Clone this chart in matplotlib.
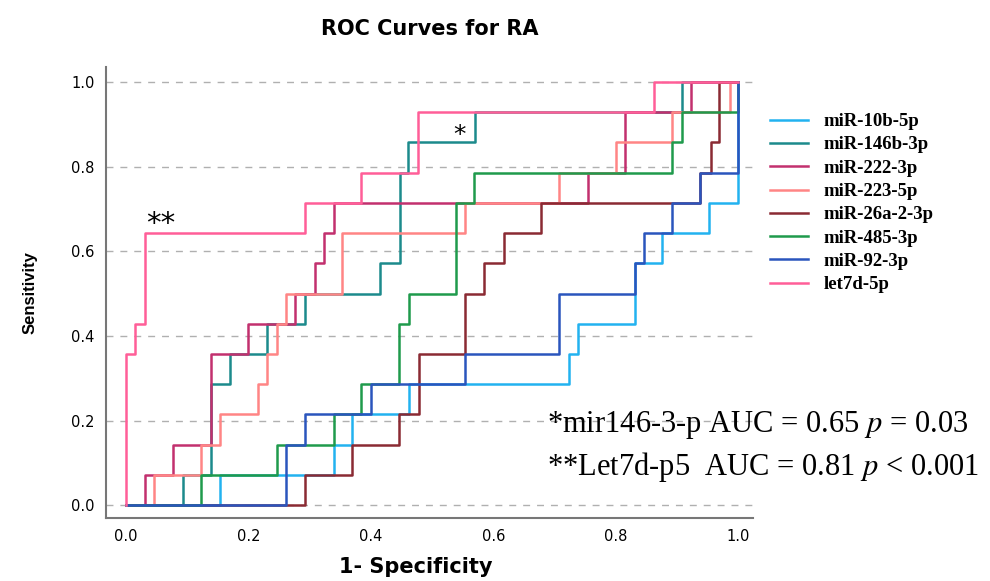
import matplotlib.pyplot as plt
import numpy as np

plt.rcParams['mathtext.fontset'] = 'stix'

n_pos = 14  # sensitivity steps are in 1/14

names = ['miR-10b-5p', 'miR-146b-3p', 'miR-222-3p', 'miR-223-5p',
         'miR-26a-2-3p', 'miR-485-3p', 'miR-92-3p', 'let7d-5p']
colors = ['#22b2f0', '#1c8a8c', '#c2306e', '#ff8585',
          '#8a2a33', '#1f9a4c', '#2a55bd', '#ff5e98']

# ROC corner points: fpr and number of true positives (of 14)
fpr_10b = [0, 0.154, 0.339, 0.369, 0.462, 0.723, 0.739, 0.831, 0.875, 0.952, 1.0]
tp_10b = [0, 1, 2, 3, 4, 5, 6, 8, 9, 10, 14]

fpr_146b = [0, 0.093, 0.138, 0.170, 0.231, 0.292, 0.415, 0.447, 0.461, 0.570, 0.908, 1.0]
tp_146b = [0, 1, 4, 5, 6, 7, 8, 11, 12, 13, 14, 14]

fpr_222 = [0, 0.031, 0.076, 0.138, 0.199, 0.276, 0.308, 0.324, 0.339, 0.754, 0.815, 0.923, 1.0]
tp_222 = [0, 1, 2, 5, 6, 7, 8, 9, 10, 11, 13, 14, 14]

fpr_223 = [0, 0.046, 0.123, 0.154, 0.216, 0.231, 0.247, 0.261, 0.353, 0.554, 0.707, 0.800, 0.892, 0.986, 1.0]
tp_223 = [0, 1, 2, 3, 4, 5, 6, 7, 9, 10, 11, 12, 13, 14, 14]

fpr_26a = [0, 0.292, 0.369, 0.446, 0.478, 0.554, 0.585, 0.617, 0.678, 0.938, 0.955, 0.969, 1.0]
tp_26a = [0, 1, 2, 3, 5, 7, 8, 9, 10, 11, 12, 14, 14]

fpr_485 = [0, 0.123, 0.246, 0.339, 0.384, 0.446, 0.462, 0.539, 0.569, 0.892, 0.908, 1.0]
tp_485 = [0, 1, 2, 3, 4, 6, 7, 10, 11, 12, 13, 14]

fpr_92 = [0, 0.261, 0.292, 0.400, 0.554, 0.707, 0.831, 0.846, 0.892, 0.938, 1.0]
tp_92 = [0, 2, 3, 4, 5, 7, 8, 9, 10, 11, 14]

fpr_let7d = [0, 0, 0.015, 0.031, 0.292, 0.384, 0.477, 0.862, 1.0]
tp_let7d = [0, 5, 6, 9, 10, 11, 13, 14, 14]

curves = [(fpr_10b, tp_10b), (fpr_146b, tp_146b), (fpr_222, tp_222), (fpr_223, tp_223),
          (fpr_26a, tp_26a), (fpr_485, tp_485), (fpr_92, tp_92), (fpr_let7d, tp_let7d)]

fig = plt.figure(figsize=(9.9, 5.81), dpi=100)
ax = fig.add_axes([0.107, 0.108, 0.654, 0.777])

for (f, t), name, c in zip(curves, names, colors):
    ax.step(f, np.array(t) / n_pos, where='post', color=c, lw=1.8, label=name)

ax.set_xlim(-0.033, 1.025)
ax.set_ylim(-0.031, 1.036)
ticks = np.arange(0, 1.01, 0.2)
ax.set_xticks(ticks)
ax.set_yticks(ticks)
ax.set_xticklabels(['%.1f' % v for v in ticks], fontsize=10.5, family='DejaVu Sans')
ax.set_yticklabels(['%.1f' % v for v in ticks], fontsize=10.5, family='DejaVu Sans')
ax.tick_params(length=0, pad=8)
for v in ticks:
    ax.axhline(v, color='#b0b0b0', lw=1, ls=(0, (5, 5)), zorder=0)

for s in ['top', 'right']:
    ax.spines[s].set_visible(False)
for s in ['left', 'bottom']:
    ax.spines[s].set_color('#777777')
    ax.spines[s].set_linewidth(1.5)

ax.set_title('ROC Curves for RA', fontsize=15, fontweight='bold',
             family='DejaVu Sans', pad=23)
ax.set_xlabel('1- Specificity', fontsize=15, fontweight='bold')
ax.xaxis.set_label_coords(0.478, -0.085)
ax.set_ylabel('Sensitivity', fontsize=12, fontweight='bold',
              family='Liberation Sans', labelpad=24)

leg = ax.legend(loc='upper left', bbox_to_anchor=(1.0, 0.935), frameon=False,
                prop={'family': 'Liberation Serif', 'weight': 'bold', 'size': 13.5},
                handlelength=2.0, labelspacing=0.33, handletextpad=0.85)

ax.text(0.033, 0.665, '**', fontsize=21, family='DejaVu Sans', ha='left', va='center')
ax.text(0.555, 0.875, '*', fontsize=18, family='DejaVu Sans', ha='right', va='center')

fig.text(0.553, 0.268, r'*mir146-3-p AUC = 0.65 $p$ = 0.03', fontsize=22,
         family='Liberation Serif', ha='left', va='center')
fig.text(0.553, 0.196, r'**Let7d-p5  AUC = 0.81 $p$ < 0.001', fontsize=22,
         family='Liberation Serif', ha='left', va='center')

fig.savefig('out.png', dpi=100)
